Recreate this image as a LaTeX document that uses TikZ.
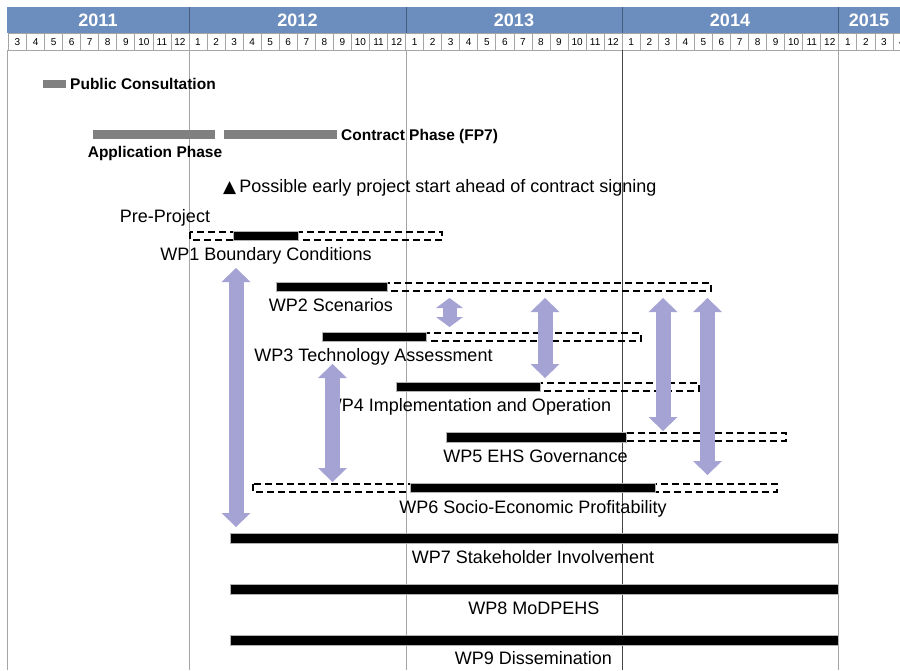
\documentclass[tikz,border=0pt]{standalone}
\usepackage{fontspec}
\setmainfont{Liberation Sans}
\newfontfamily\symfont{DejaVu Sans}
\usetikzlibrary{arrows.meta}
\definecolor{hdrblue}{RGB}{108,142,190}
\definecolor{hdrline}{RGB}{72,92,125}
\definecolor{linkc}{RGB}{165,163,212}
\definecolor{phasegrey}{RGB}{128,128,128}
\definecolor{gridgrey}{RGB}{165,165,165}
\definecolor{darkrule}{RGB}{70,70,70}

\begin{document}
\begin{tikzpicture}[x=1pt,y=-1pt,
  yearlbl/.style={text=white,font=\bfseries\fontsize{18}{18}\selectfont,inner sep=0,text height=12.9pt,text depth=0pt},
  monthcell/.style={draw=gridgrey,line width=0.8pt,fill=white},
  monthlbl/.style={font=\fontsize{10}{10}\selectfont,inner sep=0,text height=7.2pt,text depth=0pt},
  yearrule/.style={gridgrey,line width=1pt},
  phasebar/.style={fill=phasegrey},
  phaselbl/.style={font=\bfseries\fontsize{15.5}{16}\selectfont,inner sep=0,text height=11.1pt,text depth=0pt},
  wpbar/.style={fill=black,draw=gray!60,line width=0.4pt},
  planned/.style={draw=black,dash pattern=on 7pt off 4pt,line width=1.5pt},
  wplbl/.style={font=\fontsize{18}{18}\selectfont,inner sep=0,text height=12.9pt,text depth=0pt},
  link/.style={linkc,line width=15pt,
    {Triangle[width=29pt,length=14pt,line width=0pt]}-{Triangle[width=29pt,length=14pt,line width=0pt]}},
  shortlink/.style={linkc,line width=14pt,
    {Triangle[width=27pt,length=10pt,line width=0pt]}-{Triangle[width=27pt,length=10pt,line width=0pt]}},
]
\useasboundingbox (0,0) rectangle (900,670);
\fill[white] (0,0) rectangle (900,670);

% ---- time scale: years and months ----
\fill[hdrblue] (7,7) rectangle (900,33);
\foreach \k in {-10,...,39}{
  \pgfmathsetmacro{\xa}{189+18.05*\k}
  \pgfmathtruncatemacro{\mon}{mod(\k+120,12)+1}
  \draw[monthcell] (\xa,33) rectangle ({\xa+18.05},50);
  \node[monthlbl] (m\k) at ({\xa+9.025},41.5) {\mon};
}
\foreach \xr in {189,406,622,838}{
  \draw[hdrline,line width=1pt] (\xr,7) -- (\xr,33);
}
\node[yearlbl] (y2011) at (98,20) {2011};
\node[yearlbl] (y2012) at (297.5,20) {2012};
\node[yearlbl] (y2013) at (514,20) {2013};
\node[yearlbl] (y2014) at (730,20) {2014};
\node[yearlbl] (y2015) at (869,20) {2015};

% ---- year rules down the chart ----
\draw[yearrule] (7,50) -- (7,670);
\draw[yearrule] (189,50) -- (189,670);
\draw[yearrule] (406,50) -- (406,670);
\draw[darkrule,line width=1pt] (622,50) -- (622,670);
\draw[yearrule] (838,50) -- (838,670);

% ---- application phases ----
\fill[phasebar] (43,80) rectangle (66,88);
\node[phaselbl,anchor=west] (pc) at (70,84) {Public Consultation};
\fill[phasebar] (93,130) rectangle (215,139);
\fill[phasebar] (224,130) rectangle (337,139);
\node[phaselbl] (app) at (155,152) {Application Phase};
\node[phaselbl,anchor=west] (con) at (341,135) {Contract Phase (FP7)};
\node[wplbl,anchor=west] (early) at (223,186) {{\symfont\fontsize{17}{17}\selectfont ▲}\hspace{3pt}Possible early project start ahead of contract signing};
\node[wplbl] (pre) at (165,216) {Pre-Project};

% ---- work packages: planned span (dashed) and core span (solid) ----
\draw[planned] (190,232) rectangle (442,240);
\fill[wpbar] (233,231) rectangle (298,240);
\node[wplbl] (wp1) at (266,254) {WP1 Boundary Conditions};

\draw[planned] (300,283) rectangle (711,291);
\fill[wpbar] (276,282) rectangle (387,291);
\node[wplbl] (wp2) at (331,305) {WP2 Scenarios};

\draw[planned] (340,333) rectangle (641,341);
\fill[wpbar] (322,332) rectangle (426,341);
\node[wplbl] (wp3) at (373.5,355) {WP3 Technology Assessment};

\draw[planned] (420,383) rectangle (699,391);
\fill[wpbar] (396,382) rectangle (540,391);
\node[wplbl] (wp4) at (468,405) {WP4 Implementation and Operation};

\draw[planned] (470,433) rectangle (786,441);
\fill[wpbar] (446,432) rectangle (626,442);
\node[wplbl] (wp5) at (535.5,456) {WP5 EHS Governance};

\draw[planned] (253,484) rectangle (777,492);
\fill[wpbar] (410,483) rectangle (655,492);
\node[wplbl] (wp6) at (533,507) {WP6 Socio-Economic Profitability};

\fill[wpbar] (230,533) rectangle (838,543);
\node[wplbl] (wp7) at (533,557) {WP7 Stakeholder Involvement};
\fill[wpbar] (230,584) rectangle (838,594);
\node[wplbl] (wp8) at (534,608) {WP8 MoDPEHS};
\fill[wpbar] (230,635) rectangle (838,645);
\node[wplbl] (wp9) at (533.5,658) {WP9 Dissemination};

% ---- interactions between work packages ----
\coordinate (la1) at (236,268);   \coordinate (lb1) at (236,527);
\coordinate (la2) at (449.5,298); \coordinate (lb2) at (449.5,327);
\coordinate (la3) at (545,298);   \coordinate (lb3) at (545,378);
\coordinate (la4) at (663,298);   \coordinate (lb4) at (663,431);
\coordinate (la5) at (707.5,298); \coordinate (lb5) at (707.5,475);
\coordinate (la6) at (332.5,364); \coordinate (lb6) at (332.5,482);
\draw[link] (la1) -- (lb1);
\draw[shortlink] (la2) -- (lb2);
\draw[link] (la3) -- (lb3);
\draw[link] (la4) -- (lb4);
\draw[link] (la5) -- (lb5);
\draw[link] (la6) -- (lb6);
\end{tikzpicture}
\end{document}
